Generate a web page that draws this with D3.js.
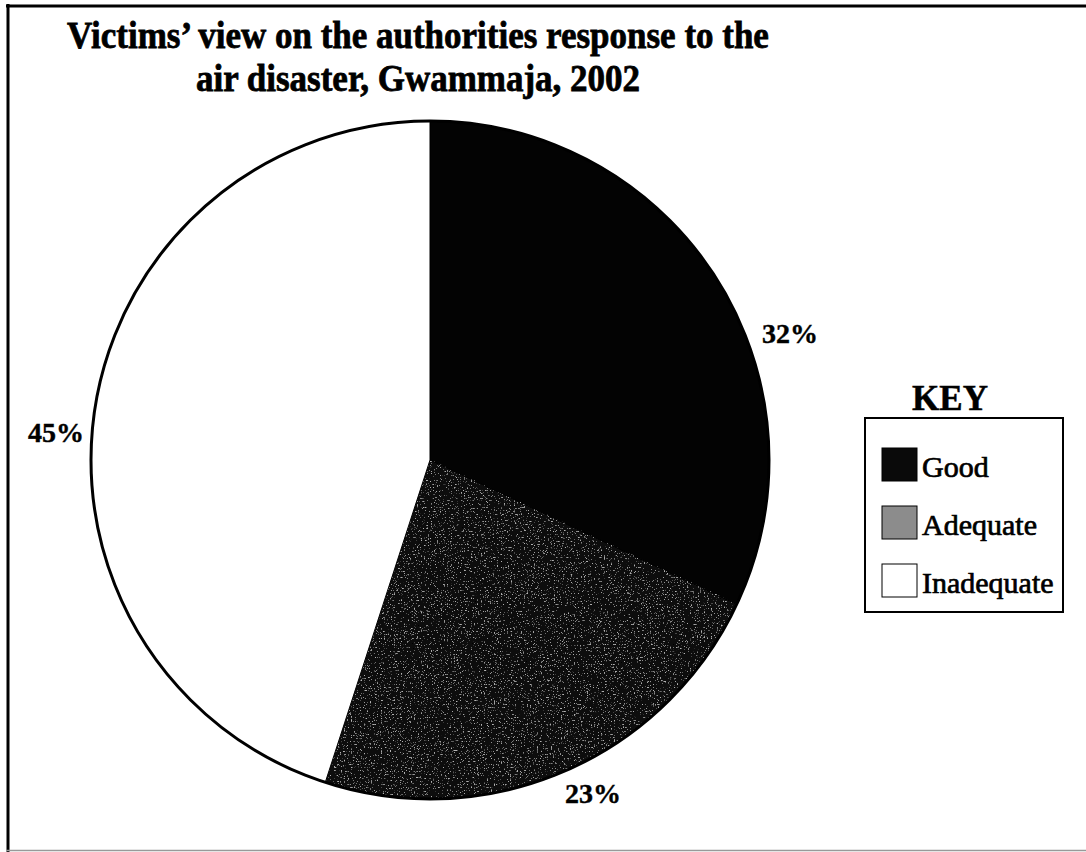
<!DOCTYPE html>
<html>
<head>
<meta charset="utf-8">
<script src="https://cdn.jsdelivr.net/npm/d3@7"></script>
<style>
  body { margin: 0; background: #fff; }
  svg { display: block; }
  text { font-family: "Liberation Serif", "Times New Roman", serif; fill: #000; }
</style>
</head>
<body>
<div id="chart"></div>
<script>
// Victims' view pie chart
var categories = ["Good", "Adequate", "Inadequate"];
var shares = [32, 23, 45];
var sliceLabels = ["32%", "23%", "45%"];
var swatchColors = ["#0a0a0a", "#8c8c8c", "#ffffff"];
var sliceColors = ["#030303", "#101010", "#ffffff"];
var titleLines = ["Victims\u2019 view on the authorities response to the", "air disaster, Gwammaja, 2002"];

var width = 1086;
var height = 852;
var cx = 430, cy = 460, radius = 339;

var svg = d3.select("#chart")
    .append("svg")
    .attr("width", width)
    .attr("height", height);

// speckle texture like the scanned print
var defs = svg.append("defs");
function speckle(id, grey, cut, freq) {
    var f = defs.append("filter").attr("id", id)
        .attr("x", 0).attr("y", 0).attr("width", 1).attr("height", 1);
    f.append("feTurbulence").attr("type", "fractalNoise")
        .attr("baseFrequency", freq).attr("numOctaves", 3).attr("seed", 11)
        .attr("result", "noise");
    f.append("feColorMatrix").attr("in", "noise").attr("type", "matrix")
        .attr("values", `0 0 0 0 ${grey}  0 0 0 0 ${grey}  0 0 0 0 ${grey}  6 0 0 0 ${cut}`)
        .attr("result", "dots");
    f.append("feComposite").attr("in", "dots").attr("in2", "SourceGraphic")
        .attr("operator", "in").attr("result", "clipped");
    var m = f.append("feMerge");
    m.append("feMergeNode").attr("in", "SourceGraphic");
    m.append("feMergeNode").attr("in", "clipped");
}
speckle("speckleA", 0.45, -3.8, 0.7);

// frame of the scanned page
svg.append("line").attr("x1", 8).attr("x2", 8).attr("y1", 4).attr("y2", 852)
    .attr("stroke", "#000").attr("stroke-width", 3);
svg.append("line").attr("x1", 6).attr("x2", 1086).attr("y1", 6).attr("y2", 6)
    .attr("stroke", "#000").attr("stroke-width", 3);
svg.append("line").attr("x1", 6).attr("x2", 1086).attr("y1", 850.5).attr("y2", 850.5)
    .attr("stroke", "#999").attr("stroke-width", 1.5);

// Title (tall, heavy print)
svg.append("g").attr("class", "title")
    .attr("transform", "translate(418,0) scale(1,1.08)")
    .selectAll("text")
    .data(titleLines)
    .enter()
    .append("text")
    .attr("x", 0)
    .attr("y", (d, i) => 44 + i * 40)
    .attr("text-anchor", "middle")
    .attr("font-size", 35)
    .attr("font-weight", "bold")
    .attr("stroke", "#000")
    .attr("stroke-width", 0.7)
    .text(d => d);

// Pie
var data = categories.map((c, i) => ({ name: c, value: shares[i], label: sliceLabels[i] }));
var pie = d3.pie().value(d => d.value).sort(null);
var arc = d3.arc().innerRadius(0).outerRadius(radius);
var arcs = pie(data);

var pieG = svg.append("g").attr("transform", `translate(${cx},${cy})`);
pieG.selectAll("path")
    .data(arcs)
    .enter()
    .append("path")
    .attr("d", arc)
    .attr("fill", (d, i) => sliceColors[i])
    .attr("stroke", "#000")
    .attr("stroke-width", 1)
    .attr("filter", (d, i) => i === 1 ? "url(#speckleA)" : null);

pieG.append("circle")
    .attr("r", radius)
    .attr("fill", "none")
    .attr("stroke", "#000")
    .attr("stroke-width", 3);

// percentage labels outside the pie
pieG.selectAll(".pct")
    .data(arcs)
    .enter()
    .append("text")
    .attr("class", "pct")
    .attr("x", (d, i) => [360, 163, -374][i])
    .attr("y", (d, i) => [-117, 343, -18][i])
    .attr("text-anchor", "middle")
    .attr("font-size", 28)
    .attr("font-weight", "bold")
    .attr("stroke", "#000")
    .attr("stroke-width", 0.4)
    .text(d => d.data.label);

// Legend
var legend = svg.append("g").attr("transform", "translate(865,418)");
legend.append("text")
    .attr("x", 85).attr("y", -8)
    .attr("text-anchor", "middle")
    .attr("font-size", 35)
    .attr("font-weight", "bold")
    .attr("stroke", "#000")
    .attr("stroke-width", 0.5)
    .text("KEY");
legend.append("rect")
    .attr("width", 198).attr("height", 194)
    .attr("fill", "#fff").attr("stroke", "#000").attr("stroke-width", 2);

var items = legend.selectAll(".item")
    .data(categories)
    .enter()
    .append("g")
    .attr("class", "item")
    .attr("transform", (d, i) => `translate(17,${30 + i * 58})`);
items.append("rect")
    .attr("width", 35).attr("height", 33)
    .attr("fill", (d, i) => swatchColors[i])
    .attr("stroke", "#000").attr("stroke-width", 1);
items.append("text")
    .attr("x", 40).attr("y", 29)
    .attr("font-size", 30)
    .attr("stroke", "#000")
    .attr("stroke-width", 0.7)
    .text(d => d);
</script>
</body>
</html>
